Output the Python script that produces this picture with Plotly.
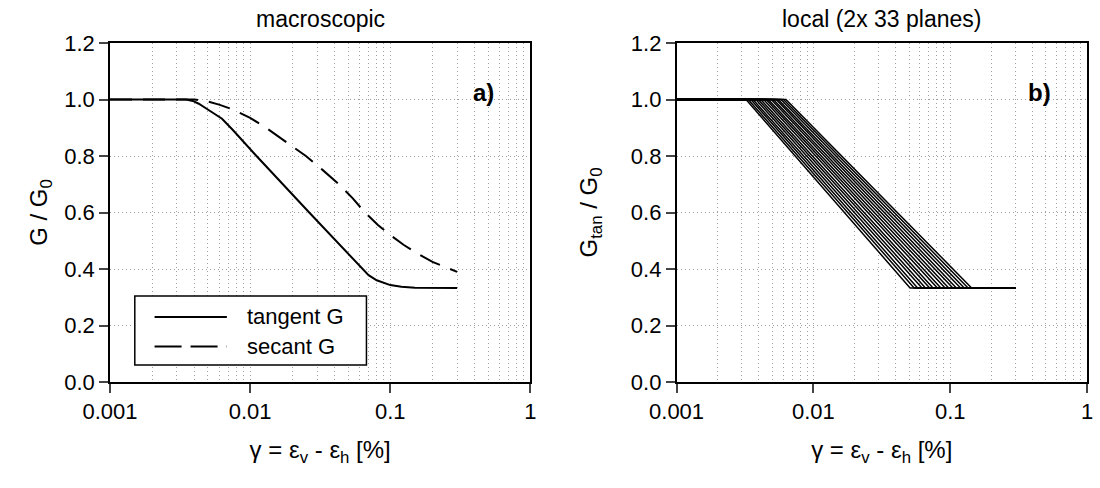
import plotly.graph_objects as go

# ---------------- data ----------------
# panel a) macroscopic
tangent_x = [0.001, 0.0035, 0.0039, 0.0043, 0.0048, 0.0055, 0.0063, 0.0075, 0.0111, 0.0264, 0.055, 0.063,
             0.07, 0.08, 0.09, 0.1, 0.12, 0.15, 0.3]
tangent_y = [1.0, 1.0, 0.995, 0.985, 0.97, 0.952, 0.932, 0.893, 0.8, 0.6, 0.432, 0.40,
             0.378, 0.36, 0.35, 0.343, 0.337, 0.334, 0.333]
secant_x = [0.001, 0.004, 0.005, 0.006, 0.0075, 0.01, 0.013, 0.018, 0.025, 0.033, 0.043,
            0.054, 0.066, 0.082, 0.1, 0.125, 0.15, 0.2, 0.25, 0.3]
secant_y = [1.0, 1.0, 0.993, 0.982, 0.965, 0.935, 0.9, 0.85, 0.8, 0.75, 0.7,
            0.65, 0.6, 0.555, 0.52, 0.485, 0.46, 0.425, 0.405, 0.39]

# panel b) local planes: onset of degradation and end of degradation strains
plane_start = [0.00322, 0.00334, 0.00349, 0.00362, 0.00380, 0.00395, 0.00412, 0.00433,
               0.00452, 0.00468, 0.00492, 0.00510, 0.00535, 0.00553, 0.00580, 0.00605, 0.00630]
plane_end = [0.0509, 0.0545, 0.0578, 0.0622, 0.0660, 0.0708, 0.0750, 0.0806, 0.0855,
             0.0918, 0.0975, 0.1046, 0.1110, 0.1192, 0.1268, 0.1352, 0.1435]
g_min = 0.333
strain_min = 0.001
strain_max = 0.3

x_ticks = [0.001, 0.01, 0.1, 1]
x_ticktext = ["0.001", "0.01", "0.1", "1"]
minor_vals = [m * d for d in (0.001, 0.01, 0.1) for m in range(2, 10)]
y_ticks = [0.0, 0.2, 0.4, 0.6, 0.8, 1.0, 1.2]

FONT = "Liberation Sans, Arial, sans-serif"
TICK = 22
TITLE = 23
AXT = 24
DASH = "22px,11px"
GRIDC = "#a0a0a0"
GRIDD = "1px,3px"

fig = go.Figure()

fig.add_trace(go.Scatter(x=tangent_x, y=tangent_y, mode="lines", line=dict(color="black", width=2),
                         showlegend=False, xaxis="x", yaxis="y"))
fig.add_trace(go.Scatter(x=secant_x, y=secant_y, mode="lines",
                         line=dict(color="black", width=2, dash=DASH),
                         showlegend=False, xaxis="x", yaxis="y"))

for xs, xe in zip(plane_start, plane_end):
    fig.add_trace(go.Scatter(x=[strain_min, xs, xe, strain_max], y=[1.0, 1.0, g_min, g_min],
                             mode="lines", line=dict(color="black", width=1.5),
                             showlegend=False, xaxis="x2", yaxis="y2"))

grid = dict(showgrid=True, gridcolor=GRIDC, gridwidth=1, griddash=GRIDD)

def xaxis(domain, anchor):
    return dict(type="log", range=[-3, 0], domain=domain, anchor=anchor,
                tickvals=x_ticks, ticktext=x_ticktext, ticks="outside", ticklen=9, tickwidth=1.5,
                showline=True, linecolor="black", linewidth=1.5, mirror=True,
                tickfont=dict(size=TICK, color="black", family=FONT), zeroline=False,
                title=dict(text="γ = ε<sub>v</sub> - ε<sub>h</sub> [%]",
                           font=dict(size=AXT, color="black", family=FONT), standoff=18),
                minor=dict(tickvals=minor_vals, showgrid=True, gridcolor=GRIDC,
                           griddash=GRIDD, gridwidth=1, ticks=""),
                **grid)

def yaxis(anchor, title, standoff):
    return dict(range=[0, 1.2], domain=[0, 1], anchor=anchor, tickvals=y_ticks,
                tickformat=".1f", ticks="outside", ticklen=9, tickwidth=1.5,
                showline=True, linecolor="black", linewidth=1.5, mirror=True, zeroline=False,
                tickfont=dict(size=TICK, color="black", family=FONT),
                title=dict(text=title, font=dict(size=AXT, color="black", family=FONT), standoff=standoff),
                **grid)

fig.update_layout(
    width=1100, height=488,
    margin=dict(l=110, r=7, t=43, b=106),
    paper_bgcolor="white", plot_bgcolor="white",
    font=dict(family=FONT, color="black"),
    xaxis=xaxis([0, 0.4303], "y"),
    yaxis=yaxis("x", "G / G<sub>0</sub>", 10),
    xaxis2=xaxis([0.5799, 1], "y2"),
    yaxis2=yaxis("x2", "G<sub>tan</sub> / G<sub>0</sub>", 26),
)

# panel titles and labels
for xd, txt in (("x domain", "macroscopic"), ("x2 domain", "local (2x 33 planes)")):
    fig.add_annotation(text=txt, xref=xd, yref="paper", x=0.5, y=1.0, yshift=9,
                       xanchor="center", yanchor="bottom", showarrow=False,
                       font=dict(size=TITLE, color="black", family=FONT))
for xd, yr, txt in (("x domain", "y", "<b>a)</b>"), ("x2 domain", "y2", "<b>b)</b>")):
    fig.add_annotation(text=txt, xref=xd, yref=yr, x=0.918, y=1.026,
                       xanchor="right", yanchor="middle", showarrow=False,
                       font=dict(size=AXT, color="black", family=FONT))

# legend box (panel a)
fig.add_shape(type="rect", xref="x domain", yref="y domain", x0=0.059, x1=0.61, y0=0.05, y1=0.254,
              line=dict(color="black", width=1.5), fillcolor="white", layer="above")
fig.add_shape(type="line", xref="x domain", yref="y domain", x0=0.106, x1=0.278, y0=0.192, y1=0.192,
              line=dict(color="black", width=2), layer="above")
fig.add_shape(type="line", xref="x domain", yref="y domain", x0=0.106, x1=0.278, y0=0.105, y1=0.105,
              line=dict(color="black", width=2, dash="27px,9px"), layer="above")
fig.add_annotation(text="tangent G", xref="x domain", yref="y domain", x=0.322, y=0.192,
                   xanchor="left", yanchor="middle", showarrow=False,
                   font=dict(size=TICK, color="black", family=FONT))
fig.add_annotation(text="secant G", xref="x domain", yref="y domain", x=0.322, y=0.105,
                   xanchor="left", yanchor="middle", showarrow=False,
                   font=dict(size=TICK, color="black", family=FONT))

fig.write_html("out.html")
